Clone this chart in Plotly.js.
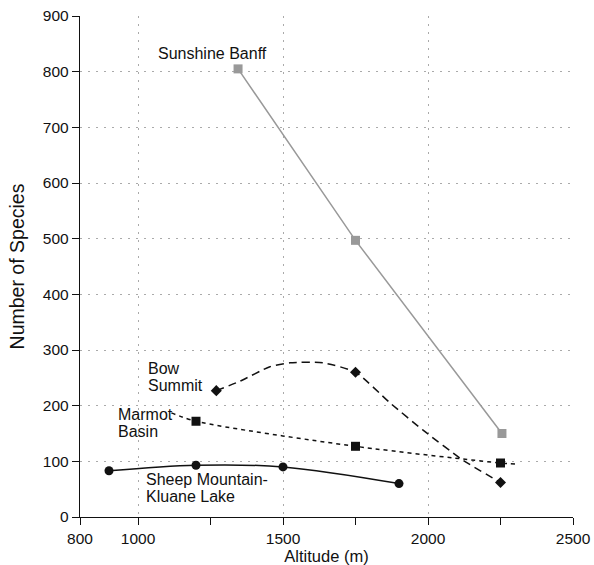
<!DOCTYPE html>
<html><head><meta charset="utf-8">
<script src="https://cdn.plot.ly/plotly-3.0.1.min.js"></script>
<style>html,body{margin:0;padding:0;background:#fff}#chart{width:594px;height:565px}</style>
</head><body><div id="chart"></div>
<script>
const sunshineX = [1345, 1750, 2255];
const sunshineY = [805, 497, 150];
const bowX = [1270, 1750, 2250];
const bowY = [227, 260, 62];
const bowCurveX = [1270, 1352, 1455, 1524, 1638, 1750, 1869, 1983, 2121, 2250];
const bowCurveY = [227, 244, 270, 277, 277, 260, 205, 156, 102, 62];
const marmotLineX = [1115, 1200, 1750, 2250, 2300];
const marmotLineY = [187, 172, 127, 97, 95];
const marmotX = [1200, 1750, 2250];
const marmotY = [172, 127, 97];
const sheepX = [900, 1200, 1500, 1900];
const sheepY = [83, 93, 90, 60];
const xMajor = [800, 1000, 1500, 2000, 2500];
const xMinor = [1250, 1750, 2250];
const yTicks = [0, 100, 200, 300, 400, 500, 600, 700, 800, 900];

const font = {family: 'Liberation Sans, Arial, sans-serif', color: '#111'};
const traces = [
  {x: sunshineX, y: sunshineY, mode: 'lines+markers', line: {color: '#999', width: 1.5},
   marker: {symbol: 'square', size: 9, color: '#999'}},
  {x: bowCurveX, y: bowCurveY, mode: 'lines', line: {color: '#111', width: 1.5, dash: '8px,5px', shape: 'spline', smoothing: 0.6}},
  {x: bowX, y: bowY, mode: 'markers', marker: {symbol: 'diamond', size: 8.5, color: '#111'}},
  {x: marmotLineX, y: marmotLineY, mode: 'lines', line: {color: '#111', width: 1.5, dash: '4px,4px', shape: 'spline', smoothing: 0.8}},
  {x: marmotX, y: marmotY, mode: 'markers', marker: {symbol: 'square', size: 9, color: '#111'}},
  {x: sheepX, y: sheepY, mode: 'lines+markers', line: {color: '#111', width: 1.5, shape: 'spline', smoothing: 1},
   marker: {symbol: 'circle', size: 9, color: '#111'}}
];
const ann = (x, y, text) => ({x, y, xref: 'x', yref: 'y', text, showarrow: false, xanchor: 'left', yanchor: 'middle', align: 'left', font: Object.assign({size: 16}, font)});
const layout = {
  width: 594, height: 565,
  margin: {l: 80, r: 21, t: 16, b: 48},
  paper_bgcolor: '#fff', plot_bgcolor: '#fff',
  showlegend: false,
  font: font,
  xaxis: {
    range: [800, 2500], tickmode: 'array', tickvals: xMajor, ticks: 'outside', ticklen: 7, tickcolor: '#111',
    showline: true, linecolor: '#111', linewidth: 1.2, zeroline: false,
    showgrid: true, gridcolor: '#aaa', griddash: '2px,6px', gridwidth: 1,
    minor: {tickvals: xMinor, ticks: 'outside', ticklen: 7, tickcolor: '#111', showgrid: false},
    tickfont: Object.assign({size: 15.5}, font),
    title: {text: 'Altitude (m)', font: Object.assign({size: 16.5}, font), standoff: 1}
  },
  yaxis: {
    range: [0, 900], tickmode: 'array', tickvals: yTicks, ticks: 'outside', ticklen: 7, tickcolor: '#111',
    showline: true, linecolor: '#111', linewidth: 1.2, zeroline: false,
    showgrid: true, gridcolor: '#aaa', griddash: '2px,6px', gridwidth: 1,
    tickfont: Object.assign({size: 15.5}, font),
    title: {text: 'Number of Species', font: Object.assign({size: 19.5}, font), standoff: 13}
  },
  annotations: [
    ann(1062, 833, 'Sunshine Banff'),
    ann(1028, 267, 'Bow'),
    ann(1028, 236, 'Summit'),
    ann(924, 184, 'Marmot'),
    ann(924, 154, 'Basin'),
    ann(1021, 68, 'Sheep Mountain-'),
    ann(1021, 37, 'Kluane Lake')
  ]
};
Plotly.newPlot('chart', traces, layout, {displayModeBar: false, staticPlot: true});
</script></body></html>
